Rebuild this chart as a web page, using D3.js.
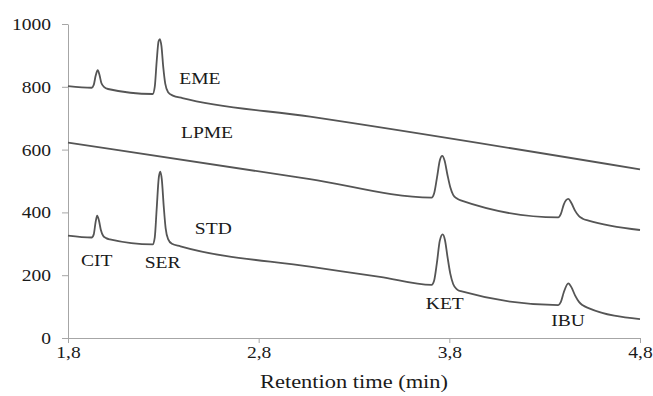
<!DOCTYPE html>
<html><head><meta charset="utf-8">
<script src="https://cdn.jsdelivr.net/npm/d3@7"></script>
<style>
body{margin:0;background:#fff}svg{display:block}
svg text{font-family:"Liberation Serif","Times New Roman","DejaVu Serif",serif;font-size:17px;fill:#1a1a1a}
svg text.title{font-size:19.5px}
</style>
</head><body><svg id="c" width="653" height="396"></svg>
<script>
const xTicks = [1.8, 2.8, 3.8, 4.8];
const yTicks = [0, 200, 400, 600, 800, 1000];
const xTitle = "Retention time (min)";

const emeTimes  = [1.8, 1.924, 1.935, 1.945, 1.956, 1.965, 1.975, 1.99, 2.01, 2.244, 2.255, 2.265, 2.275, 2.282, 2.29, 2.30, 2.31, 2.325, 2.35, 2.4, 3.07, 4.8];
const emeValues = [802, 797, 806, 835, 853, 838, 812, 799, 793, 777, 800, 880, 945, 952, 930, 860, 810, 783, 772, 764, 705, 537];

const lpmeTimes  = [1.8, 2.02, 3.069, 3.707, 3.72, 3.735, 3.75, 3.763, 3.775, 3.79, 3.805, 3.82, 3.84, 3.86, 4.371, 4.385, 4.40, 4.424, 4.44, 4.46, 4.48, 4.50, 4.53, 4.8];
const lpmeValues = [622, 602, 506, 447, 460, 510, 565, 580, 565, 520, 480, 456, 444, 438, 384, 395, 425, 443, 430, 405, 388, 380, 374, 344];

const stdTimes  = [1.8, 1.924, 1.935, 1.945, 1.953, 1.962, 1.972, 1.985, 2.0, 2.02, 2.244, 2.255, 2.265, 2.276, 2.284, 2.292, 2.302, 2.312, 2.325, 2.345, 2.39, 3.069, 3.436, 3.707, 3.72, 3.735, 3.75, 3.765, 3.777, 3.79, 3.805, 3.82, 3.84, 3.86, 4.371, 4.385, 4.40, 4.424, 4.44, 4.46, 4.48, 4.50, 4.53, 4.8];
const stdValues = [326, 320, 330, 370, 390, 375, 345, 325, 318, 314, 298, 320, 410, 510, 530, 505, 420, 350, 315, 300, 292, 227, 195, 169, 182, 240, 310, 330, 312, 260, 205, 172, 155, 149, 105, 115, 145, 174, 162, 135, 115, 104, 95, 60];

const labelTexts  = ["EME", "LPME", "STD", "CIT", "SER", "KET", "IBU"];
const labelTimes  = [2.492, 2.529, 2.562, 1.951, 2.296, 3.776, 4.423];
const labelValues = [828, 656, 350, 248, 242, 111, 57];

const svg = d3.select("#c");
const x = d3.scaleLinear().domain([1.8, 4.8]).range([68, 640]);
const y = d3.scaleLinear().domain([0, 1000]).range([338, 24]);
const axisColor = "#a6a6a6";
const sx = 1.15;
const fmt = d => d3.format(".1f")(d).replace(".", ",");

const xAxis = svg.append("g").attr("transform", "translate(0,338)")
  .call(d3.axisBottom(x).tickValues(xTicks).tickFormat(fmt).tickSize(5).tickSizeOuter(0));
const yAxis = svg.append("g").attr("transform", "translate(68,0)")
  .call(d3.axisLeft(y).tickValues(yTicks).tickFormat(d3.format("d")).tickSize(6).tickSizeOuter(0));
[xAxis, yAxis].forEach(g => {
  g.attr("font-family", null).attr("font-size", null);
  g.select(".domain").attr("stroke", axisColor).attr("stroke-width", 1);
  g.selectAll(".tick line").attr("stroke", axisColor);
  g.selectAll("text").attr("fill", "#1a1a1a").attr("transform", `scale(${sx},1)`);
});
xAxis.selectAll("text").attr("dy", "0.71em").attr("y", 8);
yAxis.selectAll("text").attr("x", -17 / sx);

svg.append("text").attr("class", "title")
  .attr("transform", `translate(${(x(1.8) + x(4.8)) / 2},388) scale(${sx},1)`)
  .attr("text-anchor", "middle").text(xTitle);

const line = d3.line().x(d => x(d[0])).y(d => y(d[1])).curve(d3.curveMonotoneX);
[[emeTimes, emeValues], [lpmeTimes, lpmeValues], [stdTimes, stdValues]].forEach(([t, v]) => {
  svg.append("path").datum(t.map((tt, i) => [tt, v[i]]))
    .attr("fill", "none").attr("stroke", "#555").attr("stroke-width", 1.8)
    .attr("stroke-linejoin", "round").attr("d", line);
});

svg.selectAll("text.lbl").data(labelTexts).enter().append("text").attr("class", "lbl")
  .attr("transform", (d, i) => `translate(${x(labelTimes[i])},${y(labelValues[i])}) scale(${sx},1)`)
  .attr("text-anchor", "middle").attr("dominant-baseline", "central").text(d => d);
</script></body></html>
